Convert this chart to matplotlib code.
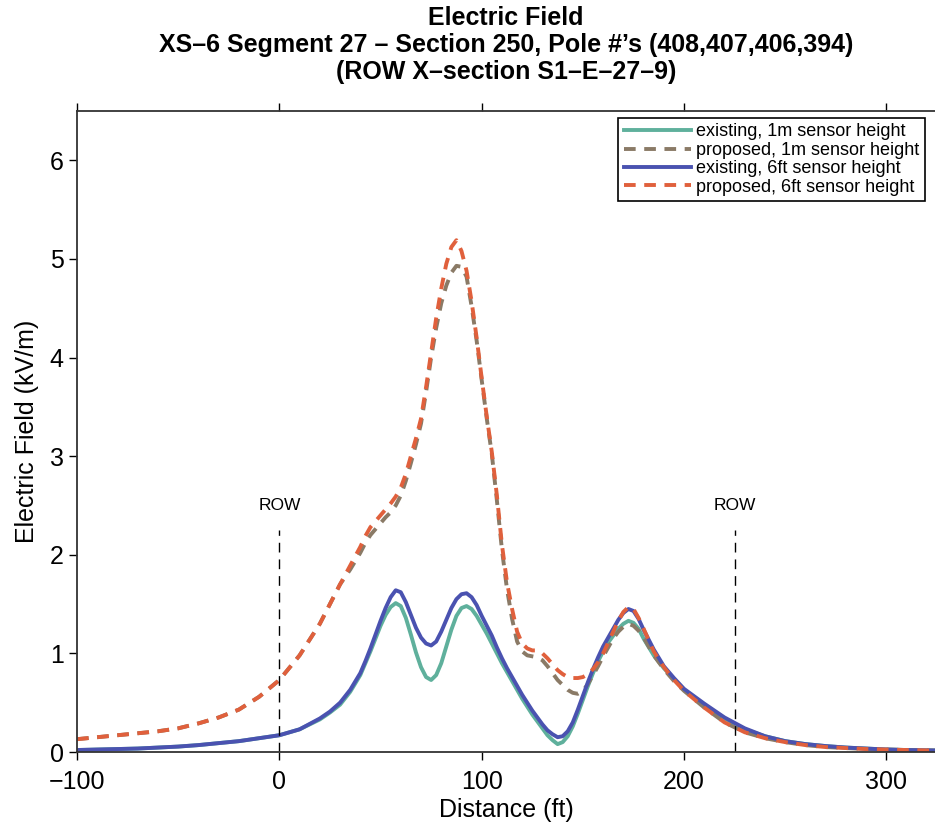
import numpy as np
import matplotlib
matplotlib.use("Agg")
from matplotlib import pyplot as plt

# distance along the cross section (ft)
dist = [-100, -90, -80, -70, -60, -50, -40, -30, -20, -10, 0, 10, 20, 25, 30, 35,
        40, 42.5, 45, 47.5, 50, 52.5, 55, 57.5, 60, 62.5, 65, 67.5, 70, 72.5, 75, 77.5,
        80, 82.5, 85, 87.5, 90, 92.5, 95, 97.5, 100, 102.5, 105, 107.5, 110, 112.5, 115, 117.5,
        120, 122.5, 125, 127.5, 130, 132.5, 135, 137.5, 140, 142.5, 145, 147.5, 150, 152.5, 155, 157.5,
        160, 162.5, 165, 167.5, 170, 172.5, 175, 177.5, 180,
        185, 190, 195, 200, 210, 220, 230, 240, 250, 260, 270, 280, 290, 300, 310, 324]

exist_6ft = [0.02, 0.025, 0.03, 0.035, 0.045, 0.055, 0.07, 0.09, 0.11, 0.14, 0.17, 0.23, 0.34, 0.41, 0.50, 0.63,
             0.80, 0.92, 1.05, 1.19, 1.33, 1.46, 1.57, 1.64, 1.62, 1.52, 1.39, 1.26, 1.16, 1.10, 1.08, 1.12,
             1.22, 1.34, 1.46, 1.55, 1.60, 1.61, 1.57, 1.49, 1.38, 1.28, 1.18, 1.06, 0.95, 0.85, 0.76, 0.67,
             0.58, 0.50, 0.42, 0.35, 0.28, 0.22, 0.18, 0.15, 0.16, 0.21, 0.30, 0.43, 0.57, 0.71, 0.84, 0.96,
             1.07, 1.16, 1.25, 1.34, 1.41, 1.45, 1.43, 1.35, 1.24,
             1.04, 0.87, 0.75, 0.64, 0.49, 0.35, 0.24, 0.16, 0.11, 0.08, 0.06, 0.045, 0.035, 0.025, 0.02, 0.015]

exist_1m = [0.02, 0.025, 0.03, 0.035, 0.045, 0.055, 0.07, 0.09, 0.11, 0.14, 0.17, 0.23, 0.33, 0.40, 0.48, 0.61,
            0.78, 0.90, 1.02, 1.15, 1.28, 1.39, 1.47, 1.51, 1.48, 1.36, 1.19, 1.01, 0.86, 0.76, 0.73, 0.78,
            0.90, 1.07, 1.24, 1.38, 1.46, 1.48, 1.45, 1.38, 1.29, 1.20, 1.10, 1.00, 0.90, 0.81, 0.72, 0.63,
            0.54, 0.46, 0.38, 0.31, 0.24, 0.17, 0.12, 0.08, 0.10, 0.16, 0.26, 0.39, 0.53, 0.67, 0.80, 0.92,
            1.02, 1.11, 1.18, 1.25, 1.30, 1.33, 1.31, 1.25, 1.15,
            0.98, 0.85, 0.74, 0.63, 0.48, 0.34, 0.23, 0.16, 0.11, 0.08, 0.06, 0.045, 0.035, 0.025, 0.02, 0.015]

prop_1m = [0.13, 0.15, 0.17, 0.19, 0.21, 0.24, 0.29, 0.35, 0.43, 0.56, 0.73, 0.98, 1.30, 1.50, 1.70, 1.85,
           2.02, 2.12, 2.20, 2.26, 2.32, 2.38, 2.43, 2.50, 2.60, 2.75, 2.93, 3.12, 3.33, 3.65, 4.00, 4.30,
           4.55, 4.73, 4.86, 4.93, 4.92, 4.82, 4.52, 4.17, 3.77, 3.38, 3.02, 2.55, 2.05, 1.65, 1.35, 1.12,
           1.02, 0.98, 0.97, 0.96, 0.93, 0.87, 0.80, 0.73, 0.68, 0.63, 0.60, 0.59, 0.62, 0.69, 0.78, 0.87,
           0.97, 1.06, 1.15, 1.22, 1.27, 1.30, 1.28, 1.23, 1.16,
           0.98, 0.84, 0.72, 0.62, 0.45, 0.30, 0.20, 0.14, 0.10, 0.07, 0.05, 0.04, 0.03, 0.025, 0.02, 0.015]

prop_6ft = [0.13, 0.15, 0.17, 0.19, 0.21, 0.24, 0.29, 0.35, 0.43, 0.56, 0.73, 0.98, 1.30, 1.50, 1.70, 1.89,
            2.08, 2.19, 2.28, 2.34, 2.40, 2.46, 2.52, 2.59, 2.68, 2.82, 3.00, 3.18, 3.38, 3.70, 4.05, 4.40,
            4.70, 4.95, 5.12, 5.19, 5.08, 4.88, 4.57, 4.20, 3.79, 3.40, 3.04, 2.60, 2.10, 1.72, 1.45, 1.22,
            1.10, 1.05, 1.03, 1.03, 1.00, 0.95, 0.89, 0.83, 0.79, 0.76, 0.75, 0.75, 0.76, 0.79, 0.84, 0.91,
            1.00, 1.11, 1.22, 1.33, 1.42, 1.47, 1.45, 1.36, 1.25,
            1.02, 0.86, 0.73, 0.62, 0.45, 0.30, 0.20, 0.14, 0.10, 0.07, 0.05, 0.04, 0.03, 0.025, 0.02, 0.015]

row_x = [0, 225]
row_top = 2.25

plt.rcParams['font.family'] = ['Liberation Sans', 'DejaVu Sans']

fig = plt.figure(figsize=(9.35, 8.3), dpi=100)
ax = fig.add_axes([77 / 935, 1 - 752 / 830, 858 / 935, 641 / 830])

ax.plot(dist, exist_1m, color='#5fb09c', lw=2.8, label='existing, 1m sensor height')
ax.plot(dist, prop_1m, color='#8a7a66', lw=2.8, ls=(0, (3, 2.2)), label='proposed, 1m sensor height')
ax.plot(dist, exist_6ft, color='#4a52b0', lw=2.8, label='existing, 6ft sensor height')
ax.plot(dist, prop_6ft, color='#e0603c', lw=2.8, ls=(0, (3, 2.2)), label='proposed, 6ft sensor height')

for xr in row_x:
    ax.plot([xr, xr], [0, row_top], color='black', lw=1.0, ls=(0, (7, 5)))
    ax.text(xr, row_top + 0.25, 'ROW', ha='center', va='center', fontsize=12.5)

ax.set_xlim(-100, 324)
ax.set_ylim(0, 6.5)
ax.set_xticks([-100, 0, 100, 200, 300])
ax.set_yticks([0, 1, 2, 3, 4, 5, 6])
ax.tick_params(direction='out', length=6, width=1, labelsize=18, top=True)
ax.tick_params(axis='x', pad=7)
ax.spines['right'].set_visible(False)
for s in ['left', 'bottom', 'top']:
    ax.spines[s].set_linewidth(1.3)
    ax.spines[s].set_color('#333333')

ax.set_xlabel('Distance (ft)', fontsize=18, labelpad=3)
ax.set_ylabel('Electric Field (kV/m)', fontsize=18, labelpad=8)

cx = 0.5 + 77 / 935 / 2
fig.text(cx, 1 - 18 / 830, 'Electric Field', ha='center', va='center',
         fontsize=18, fontweight='bold')
fig.text(cx, 1 - 45 / 830,
         "XS\u20136 Segment 27 \u2013 Section 250, Pole #\u2019s (408,407,406,394)",
         ha='center', va='center', fontsize=18, fontweight='bold')
fig.text(cx, 1 - 72 / 830, '(ROW X\u2013section S1\u2013E\u201327\u20139)',
         ha='center', va='center', fontsize=18, fontweight='bold')

leg = ax.legend(loc='upper right', bbox_to_anchor=(0.988, 0.989), borderaxespad=0,
                fontsize=13, handlelength=3.7, handletextpad=0.3, labelspacing=0.08,
                fancybox=False, framealpha=1, borderpad=0.3)
leg.get_frame().set_edgecolor('black')
leg.get_frame().set_linewidth(1.2)

fig.savefig('out.png', dpi=100)
